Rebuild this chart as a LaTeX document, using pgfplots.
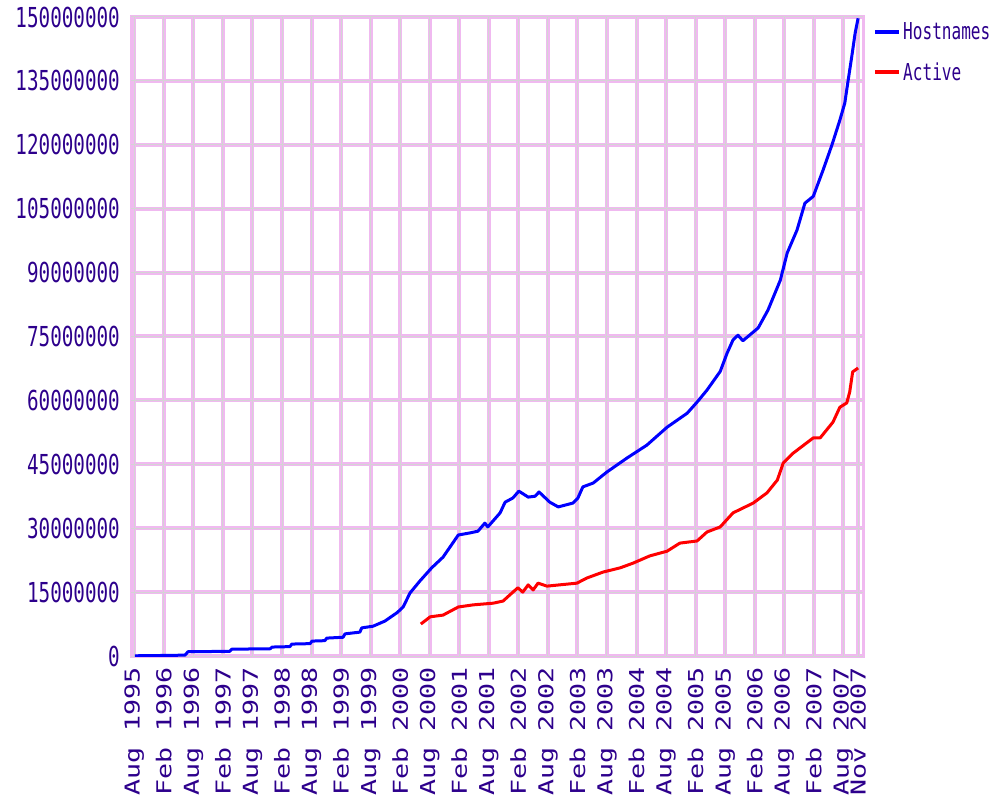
\documentclass[border=0pt]{standalone}
\usepackage{fontspec}
\usepackage{pgfplots}
\pgfplotsset{compat=1.18}
\newfontfamily\ylabfont[FakeStretch=0.70]{DejaVu Sans Mono}
\newfontfamily\xlabfont[FakeStretch=1.30]{DejaVu Sans Mono}
\newfontfamily\legfont[FakeStretch=0.69]{DejaVu Sans Mono}
\definecolor{gridpink}{RGB}{240,185,240}
\definecolor{gridgray}{RGB}{212,212,212}
\definecolor{labelcol}{RGB}{45,0,140}
\definecolor{hostblue}{RGB}{0,0,255}
\definecolor{actred}{RGB}{255,0,0}

\pgfplotstableread{
m v
0.1 0.05
4.2 0.1
10.3 0.2
10.9 1.0
19.4 1.1
19.8 1.6
27.6 1.7
28.0 2.1
31.6 2.2
32.0 2.8
35.7 2.9
36.1 3.5
38.7 3.6
39.1 4.2
42.4 4.4
42.8 5.2
45.8 5.6
46.2 6.6
48.5 7.0
50.9 8.2
53.4 10.2
54.6 11.5
56.0 14.8
58.0 17.6
60.4 20.7
62.7 23.2
65.8 28.4
68.2 28.9
69.8 29.3
71.2 31.2
71.8 30.3
74.3 33.6
75.3 36.1
76.9 37.1
78.1 38.7
80.0 37.3
81.4 37.5
82.2 38.5
84.4 36.1
86.1 35.0
89.1 35.9
90.1 37.1
91.1 39.7
93.2 40.6
96.0 43.2
100.1 46.5
104.1 49.5
108.2 53.7
112.3 57.0
114.3 59.6
116.3 62.4
119.0 66.8
120.4 71.1
121.6 74.2
122.6 75.3
123.6 74.0
126.7 77.0
128.7 81.2
131.2 88.2
132.6 94.6
134.6 100.0
136.2 106.3
137.9 107.9
139.9 114.1
141.7 120.0
143.3 125.8
144.3 129.8
144.9 134.5
145.7 140.6
146.4 146.2
147.0 149.7
}\hostdata

\pgfplotstableread{
m v
58.2 7.5
60.1 9.2
62.7 9.6
65.8 11.5
68.8 12.0
72.9 12.4
74.9 12.9
76.9 15.0
77.9 16.0
78.9 15.0
80.0 16.7
81.0 15.5
82.0 17.1
83.8 16.4
86.4 16.7
89.9 17.1
91.9 18.3
95.2 19.7
98.7 20.7
101.3 21.8
104.7 23.5
108.2 24.6
110.8 26.5
114.3 27.0
116.3 29.1
119.0 30.3
121.6 33.6
125.7 35.9
128.5 38.3
130.6 41.3
131.8 45.3
133.8 47.6
137.9 51.2
139.3 51.2
141.9 54.9
143.3 58.4
144.7 59.4
145.3 62.0
145.9 66.7
147.0 67.6
}\activedata

\begin{document}
\begin{tikzpicture}
\begin{axis}[
  at={(131pt,141pt)}, anchor=south west,
  scale only axis, width=732pt, height=639pt,
  xmin=-0.67, xmax=148, ymin=0, ymax=150,
  axis line style={draw=gridpink, line width=3pt},
  xtick={0,6,...,144,147},
  xticklabels={Aug 1995,Feb 1996,Aug 1996,Feb 1997,Aug 1997,Feb 1998,Aug 1998,Feb 1999,Aug 1999,Feb 2000,Aug 2000,Feb 2001,Aug 2001,Feb 2002,Aug 2002,Feb 2003,Aug 2003,Feb 2004,Aug 2004,Feb 2005,Aug 2005,Feb 2006,Aug 2006,Feb 2007,Aug 2007,Nov 2007},
  ytick={0,15,...,150},
  yticklabels={0,15000000,30000000,45000000,60000000,75000000,90000000,105000000,120000000,135000000,150000000},
  major tick length=0pt,
  xmajorgrids, ymajorgrids,
  major grid style={draw=gridpink, line width=4pt},
  extra x ticks={0,6,...,144,147},
  extra x tick labels={},
  extra y ticks={0,15,...,150},
  extra y tick labels={},
  extra tick style={major grid style={draw=gridgray, line width=1pt}},
  xticklabel style={font=\xlabfont\fontsize{20.5}{22}\selectfont, text=labelcol, rotate=90, anchor=east, inner sep=0pt},
  xticklabel shift=11pt,
  yticklabel style={font=\ylabfont\fontsize{27.5}{30}\selectfont, text=labelcol, anchor=east, inner sep=0pt},
  yticklabel shift=11pt,
  legend style={at={(1.0137,0.995)}, anchor=north west, draw=none, fill=none,
    font=\legfont\fontsize{23.3}{25}\selectfont, text=labelcol, row sep=18pt, inner sep=0pt},
  legend cell align=left,
  legend image code/.code={\draw[#1, line width=4pt] (0pt,0pt) -- (24pt,0pt);},
]
\addplot[hostblue, line width=3pt, line join=round] table[x=m, y=v] {\hostdata};
\addlegendentry{Hostnames}
\addplot[actred, line width=3pt, line join=round] table[x=m, y=v] {\activedata};
\addlegendentry{Active}
\end{axis}
\pgfresetboundingbox
\path[use as bounding box] (0,0) rectangle (992pt,797pt);
\end{tikzpicture}
\end{document}
